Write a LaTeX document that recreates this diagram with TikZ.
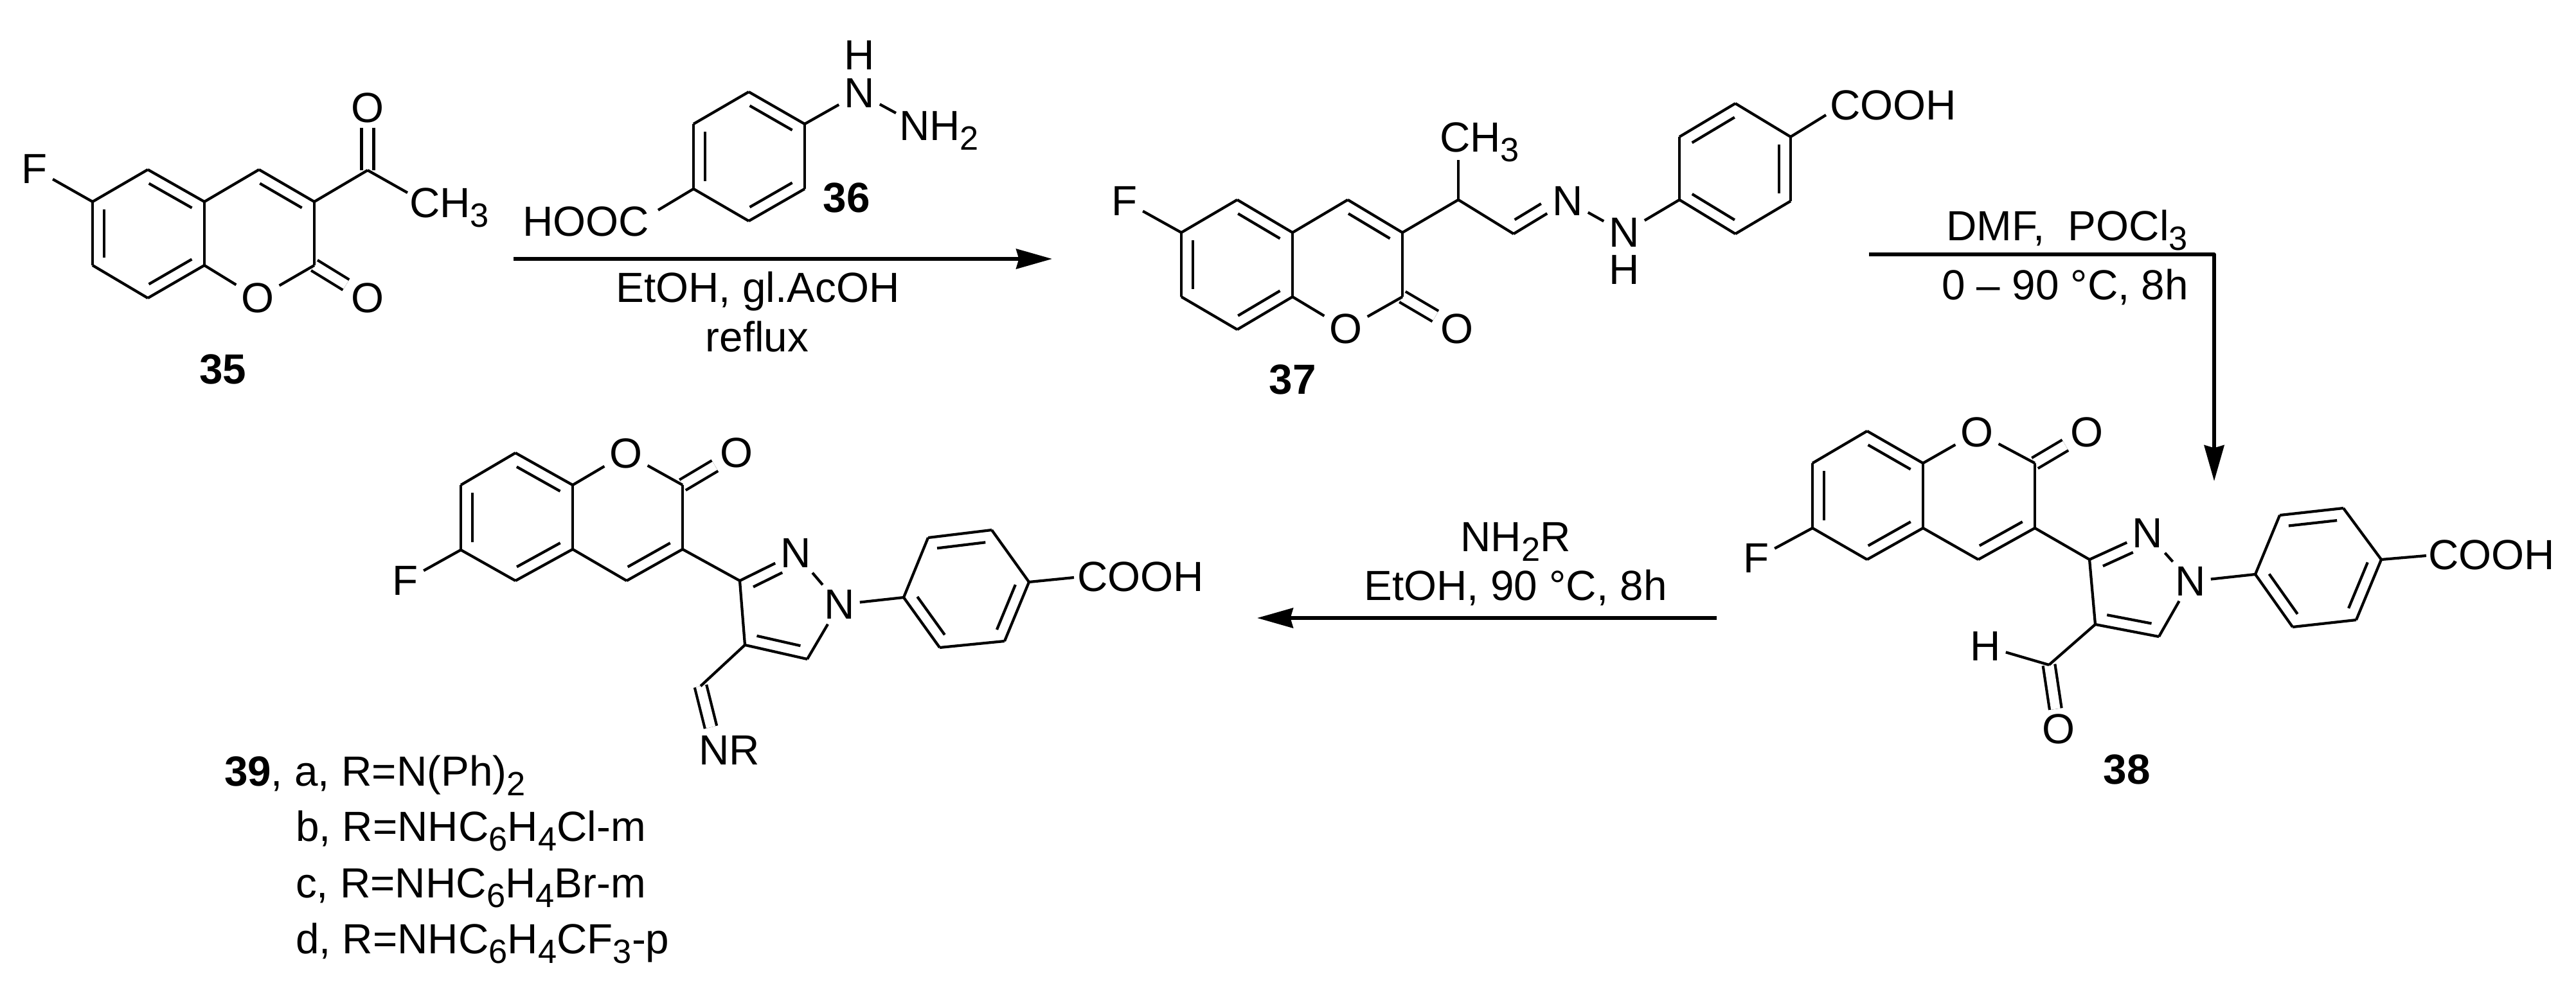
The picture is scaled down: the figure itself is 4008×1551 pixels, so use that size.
\documentclass[tikz,border=0pt]{standalone}
\usepackage{fontspec}
\setmainfont{Liberation Sans}
\usetikzlibrary{calc}
\usetikzlibrary{arrows.meta}

\newcommand{\chemsub}[1]{\raisebox{-0.23em}{\fontsize{14.9}{15}\selectfont #1}}
\newcommand{\partbond}[4]{\draw ($(#1)!#3!(#2)!5.1pt!90:(#2)$) -- ($(#2)!#4!(#1)!5.1pt!-90:(#1)$);}
\newcommand{\innerbond}[2]{\partbond{#1}{#2}{0.12}{0.12}}

\tikzset{
	atom/.style={inner sep=2.3pt,outer sep=0pt,font=\fontsize{18.66}{20}\selectfont},
	chemtext/.style={inner sep=0pt,outer sep=0pt,anchor=base west,font=\fontsize{18.66}{20}\selectfont},
	condition/.style={inner sep=0pt,outer sep=0pt,anchor=base,font=\fontsize{18.66}{20}\selectfont},
	cpdlabel/.style={inner sep=0pt,outer sep=0pt,anchor=base,font=\fontsize{18.66}{20}\selectfont\bfseries},
	dblbond/.style={double,double distance=4.15pt},
	reaction/.style={line width=1.5pt,-{Stealth[length=15.9pt,width=8.8pt,inset=1.2pt]}}
}

\begin{document}
\begin{tikzpicture}[x=0.01cm,y=-0.01cm,line width=1.2pt,line join=round]

	\useasboundingbox (0,0) rectangle (4008,1551);

	% 35
	\coordinate (c6-35) at (144,314);
	\coordinate (c5-35) at (230,264);
	\coordinate (c4a-35) at (318,314);
	\coordinate (c4-35) at (403,264);
	\coordinate (c3-35) at (489,314);
	\coordinate (c2-35) at (489,413);
	\coordinate (c8a-35) at (318,413);
	\coordinate (c8-35) at (230,464);
	\coordinate (c7-35) at (144,413);
	\coordinate (ac-35) at (572,265);
	\coordinate (me-35) at (634,300);
	\node[atom] (f-35) at (54,263) {F};
	\node[atom] (o1-35) at (401,464) {O};
	\node[atom] (oc-35) at (572,464) {O};
	\node[atom] (oa-35) at (572,168) {O};
	\node[chemtext] (ch-35) at (637,338) {CH\chemsub{3}};
	\node[cpdlabel] (lab-35) at (347,597) {35};

	\draw[dblbond] (c2-35) -- (oc-35);
	\draw[dblbond] (ac-35) -- (oa-35);
	\draw (f-35) -- (c6-35);
	\draw (c6-35) -- (c5-35);
	\draw (c5-35) -- (c4a-35);
	\draw (c4a-35) -- (c4-35);
	\draw (c4-35) -- (c3-35);
	\draw (c3-35) -- (c2-35);
	\draw (c2-35) -- (o1-35);
	\draw (o1-35) -- (c8a-35);
	\draw (c8a-35) -- (c4a-35);
	\draw (c8a-35) -- (c8-35);
	\draw (c8-35) -- (c7-35);
	\draw (c7-35) -- (c6-35);
	\draw (c3-35) -- (ac-35);
	\draw (ac-35) -- (me-35);
	\innerbond{c6-35}{c7-35}
	\innerbond{c8-35}{c8a-35}
	\innerbond{c4a-35}{c5-35}
	\innerbond{c3-35}{c4-35}

	% 36
	\coordinate (top-36) at (1165,143);
	\coordinate (ur-36) at (1252,193);
	\coordinate (lr-36) at (1252,294);
	\coordinate (bot-36) at (1165,344);
	\coordinate (ll-36) at (1079,294);
	\coordinate (ul-36) at (1079,193);
	\coordinate (hoocend-36) at (1024,327);
	\coordinate (nhend-36) at (1394,176);
	\node[atom] (n-36) at (1337,145) {N};
	\node[atom,inner sep=0pt] (h-36) at (1337,86) {H};
	\node[chemtext] (nh-36) at (1399,218) {NH\chemsub{2}};
	\node[chemtext] (hooc-36) at (813,367) {HOOC};
	\node[cpdlabel] (lab-36) at (1317,330) {36};

	\draw (top-36) -- (ur-36);
	\draw (ur-36) -- (lr-36);
	\draw (lr-36) -- (bot-36);
	\draw (bot-36) -- (ll-36);
	\draw (ll-36) -- (ul-36);
	\draw (ul-36) -- (top-36);
	\draw (ur-36) -- (n-36);
	\draw (n-36) -- (nhend-36);
	\draw (ll-36) -- (hoocend-36);
	\innerbond{ul-36}{ll-36}
	\innerbond{bot-36}{lr-36}
	\innerbond{ur-36}{top-36}

	% first step
	\coordinate (start-a) at (799,403);
	\coordinate (end-a) at (1637,403);
	\draw[reaction] (start-a) -- (end-a);
	\node[condition] (etoh-a) at (1179,470) {EtOH, gl.AcOH};
	\node[condition] (reflux-a) at (1178,547) {reflux};

	% 37
	\coordinate (c6-37) at (1838,362);
	\coordinate (c5-37) at (1925,311);
	\coordinate (c4a-37) at (2011,362);
	\coordinate (c4-37) at (2097,311);
	\coordinate (c3-37) at (2182,362);
	\coordinate (c2-37) at (2182,462);
	\coordinate (c8a-37) at (2011,462);
	\coordinate (c8-37) at (1925,513);
	\coordinate (c7-37) at (1838,462);
	\coordinate (ch-37) at (2269,311);
	\coordinate (meend-37) at (2269,249);
	\coordinate (imine-37) at (2355,364);
	\coordinate (ll-37) at (2613,311);
	\coordinate (bot-37) at (2700,364);
	\coordinate (lr-37) at (2786,313);
	\coordinate (ur-37) at (2786,213);
	\coordinate (top-37) at (2700,161);
	\coordinate (ul-37) at (2613,213);
	\coordinate (coohend-37) at (2841,179);
	\node[atom] (f-37) at (1750,313) {F};
	\node[atom] (o1-37) at (2094,512) {O};
	\node[atom] (oc-37) at (2267,512) {O};
	\node[atom] (n1-37) at (2439,313) {N};
	\node[atom] (n2-37) at (2527,362) {N};
	\node[atom,inner sep=0pt] (h-37) at (2527,420) {H};
	\node[chemtext] (me-37) at (2240,236) {CH\chemsub{3}};
	\node[chemtext] (cooh-37) at (2847,186) {COOH};
	\node[cpdlabel] (lab-37) at (2011,613) {37};

	\draw[dblbond] (c2-37) -- (oc-37);
	\draw (f-37) -- (c6-37);
	\draw (c6-37) -- (c5-37);
	\draw (c5-37) -- (c4a-37);
	\draw (c4a-37) -- (c4-37);
	\draw (c4-37) -- (c3-37);
	\draw (c3-37) -- (c2-37);
	\draw (c2-37) -- (o1-37);
	\draw (o1-37) -- (c8a-37);
	\draw (c8a-37) -- (c4a-37);
	\draw (c8a-37) -- (c8-37);
	\draw (c8-37) -- (c7-37);
	\draw (c7-37) -- (c6-37);
	\draw (c3-37) -- (ch-37);
	\draw (ch-37) -- (meend-37);
	\draw (ch-37) -- (imine-37);
	\draw (imine-37) -- (n1-37);
	\draw (n1-37) -- (n2-37);
	\draw (n2-37) -- (ll-37);
	\draw (ll-37) -- (bot-37);
	\draw (bot-37) -- (lr-37);
	\draw (lr-37) -- (ur-37);
	\draw (ur-37) -- (top-37);
	\draw (top-37) -- (ul-37);
	\draw (ul-37) -- (ll-37);
	\draw (ur-37) -- (coohend-37);
	\innerbond{c6-37}{c7-37}
	\innerbond{c8-37}{c8a-37}
	\innerbond{c4a-37}{c5-37}
	\innerbond{c3-37}{c4-37}
	\innerbond{ll-37}{bot-37}
	\innerbond{lr-37}{ur-37}
	\innerbond{top-37}{ul-37}
	\partbond{imine-37}{n1-37}{0.13}{0.38}

	% second step
	\coordinate (start-b) at (2908,396);
	\coordinate (end-b) at (3445,749);
	\draw[reaction] (start-b) -| (end-b);
	\node[condition] (dmf-b) at (3216,374) {DMF,\ \ POCl\chemsub{3}};
	\node[condition] (temp-b) at (3213,466) {0 -- 90 °C, 8h};

	% 38
	\coordinate (c6-38) at (2820,822);
	\coordinate (c5-38) at (2905,871);
	\coordinate (c4a-38) at (2992,822);
	\coordinate (c4-38) at (3078,871);
	\coordinate (c3-38) at (3166,822);
	\coordinate (c2-38) at (3166,721);
	\coordinate (c8a-38) at (2992,721);
	\coordinate (c8-38) at (2905,671);
	\coordinate (c7-38) at (2820,721);
	\coordinate (p3-38) at (3251,871);
	\coordinate (p4-38) at (3260,972);
	\coordinate (p5-38) at (3359,991);
	\coordinate (cho-38) at (3188,1035);
	\coordinate (ip-38) at (3509,894);
	\coordinate (ar1-38) at (3567,976);
	\coordinate (ar2-38) at (3666,965);
	\coordinate (ar3-38) at (3705,871);
	\coordinate (ar4-38) at (3646,791);
	\coordinate (ar5-38) at (3547,802);
	\coordinate (coohend-38) at (3775,865);
	\node[atom] (f-38) at (2733,869) {F};
	\node[atom] (o1-38) at (3076,673) {O};
	\node[atom] (oc-38) at (3247,673) {O};
	\node[atom] (n2-38) at (3341,830) {N};
	\node[atom] (n1-38) at (3408,905) {N};
	\node[atom] (h-38) at (3089,1006) {H};
	\node[atom] (oh-38) at (3203,1135) {O};
	\node[chemtext] (cooh-38) at (3778,886) {COOH};
	\node[cpdlabel] (lab-38) at (3309,1220) {38};

	\draw[dblbond] (c2-38) -- (oc-38);
	\draw[dblbond] (cho-38) -- (oh-38);
	\draw (f-38) -- (c6-38);
	\draw (c6-38) -- (c5-38);
	\draw (c5-38) -- (c4a-38);
	\draw (c4a-38) -- (c4-38);
	\draw (c4-38) -- (c3-38);
	\draw (c3-38) -- (c2-38);
	\draw (c2-38) -- (o1-38);
	\draw (o1-38) -- (c8a-38);
	\draw (c8a-38) -- (c4a-38);
	\draw (c8a-38) -- (c8-38);
	\draw (c8-38) -- (c7-38);
	\draw (c7-38) -- (c6-38);
	\draw (c3-38) -- (p3-38);
	\draw (p3-38) -- (n2-38);
	\draw (n2-38) -- (n1-38);
	\draw (n1-38) -- (p5-38);
	\draw (p5-38) -- (p4-38);
	\draw (p4-38) -- (p3-38);
	\draw (p4-38) -- (cho-38);
	\draw (cho-38) -- (h-38);
	\draw (n1-38) -- (ip-38);
	\draw (ip-38) -- (ar1-38);
	\draw (ar1-38) -- (ar2-38);
	\draw (ar2-38) -- (ar3-38);
	\draw (ar3-38) -- (ar4-38);
	\draw (ar4-38) -- (ar5-38);
	\draw (ar5-38) -- (ip-38);
	\draw (ar3-38) -- (coohend-38);
	\innerbond{c7-38}{c6-38}
	\innerbond{c5-38}{c4a-38}
	\innerbond{c8a-38}{c8-38}
	\innerbond{c4-38}{c3-38}
	\innerbond{ip-38}{ar1-38}
	\innerbond{ar2-38}{ar3-38}
	\innerbond{ar4-38}{ar5-38}
	\partbond{p4-38}{p5-38}{0.15}{0.15}
	\partbond{n2-38}{p3-38}{0.33}{0.15}

	% third step
	\coordinate (start-c) at (2671,962);
	\coordinate (end-c) at (1956,962);
	\draw[reaction] (start-c) -- (end-c);
	\node[condition] (amine-c) at (2358,858) {NH\chemsub{2}R};
	\node[condition] (etoh-c) at (2358,934) {EtOH, 90 °C, 8h};

	% 39
	\coordinate (c6-39) at (717,856);
	\coordinate (c5-39) at (802,904);
	\coordinate (c4a-39) at (891,855);
	\coordinate (c4-39) at (975,904);
	\coordinate (c3-39) at (1062,855);
	\coordinate (c2-39) at (1062,755);
	\coordinate (c8a-39) at (891,755);
	\coordinate (c8-39) at (802,705);
	\coordinate (c7-39) at (717,755);
	\coordinate (p3-39) at (1151,904);
	\coordinate (p4-39) at (1159,1004);
	\coordinate (p5-39) at (1256,1026);
	\coordinate (imine-39) at (1090,1068);
	\coordinate (nrend-39) at (1106,1132);
	\coordinate (ip-39) at (1406,930);
	\coordinate (ar1-39) at (1462,1008);
	\coordinate (ar2-39) at (1563,998);
	\coordinate (ar3-39) at (1601,906);
	\coordinate (ar4-39) at (1543,825);
	\coordinate (ar5-39) at (1444,837);
	\coordinate (coohend-39) at (1671,899);
	\node[atom] (f-39) at (631,904) {F};
	\node[atom] (o1-39) at (974,706) {O};
	\node[atom] (oc-39) at (1146,705) {O};
	\node[atom] (n2-39) at (1238,861) {N};
	\node[atom] (n1-39) at (1306,941) {N};
	\node[chemtext] (nr-39) at (1087,1190) {NR};
	\node[chemtext] (cooh-39) at (1676,920) {COOH};
	\node[chemtext] (ra-39) at (349,1223) {\textbf{39}, a, R=N(Ph)\chemsub{2}};
	\node[chemtext] (rb-39) at (460,1309) {b, R=NHC\chemsub{6}H\chemsub{4}Cl-m};
	\node[chemtext] (rc-39) at (460,1397) {c, R=NHC\chemsub{6}H\chemsub{4}Br-m};
	\node[chemtext] (rd-39) at (460,1484) {d, R=NHC\chemsub{6}H\chemsub{4}CF\chemsub{3}-p};

	\draw[dblbond] (c2-39) -- (oc-39);
	\draw[dblbond] (imine-39) -- (nrend-39);
	\draw (f-39) -- (c6-39);
	\draw (c6-39) -- (c5-39);
	\draw (c5-39) -- (c4a-39);
	\draw (c4a-39) -- (c4-39);
	\draw (c4-39) -- (c3-39);
	\draw (c3-39) -- (c2-39);
	\draw (c2-39) -- (o1-39);
	\draw (o1-39) -- (c8a-39);
	\draw (c8a-39) -- (c4a-39);
	\draw (c8a-39) -- (c8-39);
	\draw (c8-39) -- (c7-39);
	\draw (c7-39) -- (c6-39);
	\draw (c3-39) -- (p3-39);
	\draw (p3-39) -- (n2-39);
	\draw (n2-39) -- (n1-39);
	\draw (n1-39) -- (p5-39);
	\draw (p5-39) -- (p4-39);
	\draw (p4-39) -- (p3-39);
	\draw (p4-39) -- (imine-39);
	\draw (n1-39) -- (ip-39);
	\draw (ip-39) -- (ar1-39);
	\draw (ar1-39) -- (ar2-39);
	\draw (ar2-39) -- (ar3-39);
	\draw (ar3-39) -- (ar4-39);
	\draw (ar4-39) -- (ar5-39);
	\draw (ar5-39) -- (ip-39);
	\draw (ar3-39) -- (coohend-39);
	\innerbond{c7-39}{c6-39}
	\innerbond{c5-39}{c4a-39}
	\innerbond{c8a-39}{c8-39}
	\innerbond{c4-39}{c3-39}
	\innerbond{ip-39}{ar1-39}
	\innerbond{ar2-39}{ar3-39}
	\innerbond{ar4-39}{ar5-39}
	\partbond{p4-39}{p5-39}{0.15}{0.15}
	\partbond{n2-39}{p3-39}{0.33}{0.15}

\end{tikzpicture}
\end{document}
